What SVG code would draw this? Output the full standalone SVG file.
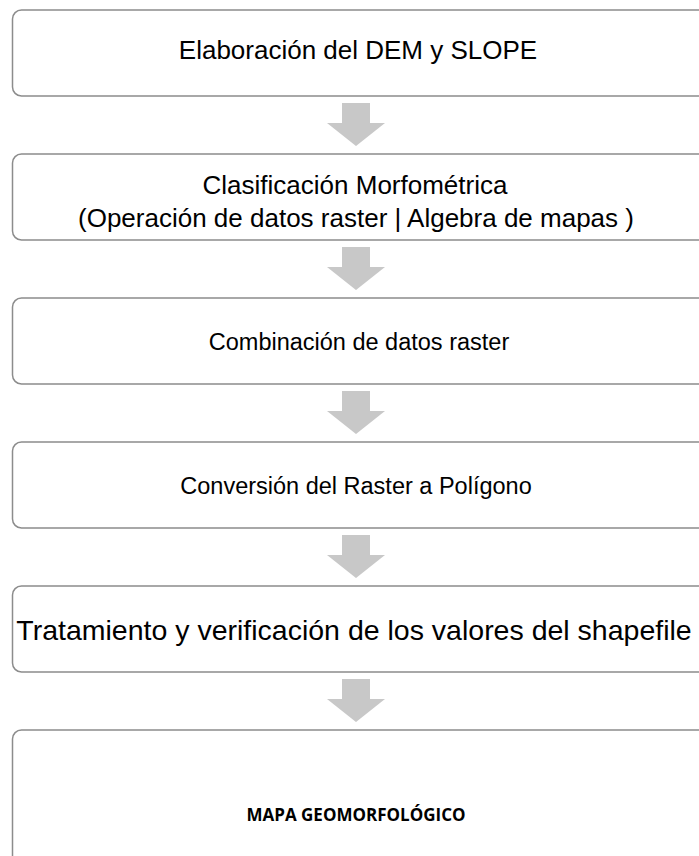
<svg xmlns="http://www.w3.org/2000/svg" width="699" height="856" viewBox="0 0 699 856">
<style>
.box{fill:#ffffff;stroke:#8c8c8c;stroke-width:1.5}
.t{font-family:"Liberation Sans",Arial,sans-serif;font-size:27px;fill:#000;text-anchor:middle}
.b{font-family:"Open Sans","Liberation Sans",sans-serif;font-size:17px;font-weight:700;fill:#000;text-anchor:middle}
.arr{fill:#c8c8c8}
</style>
<defs>
<path id="arrow" d="M-14,0 H14 V20 H29 L0,43 L-29,20 H-14 Z"/>
</defs>
<rect width="699" height="856" fill="#ffffff"/>
<g id="connectors">
<use href="#arrow" class="arr" x="356" y="103"/>
<use href="#arrow" class="arr" x="356" y="247"/>
<use href="#arrow" class="arr" x="356" y="391"/>
<use href="#arrow" class="arr" x="356" y="535"/>
<use href="#arrow" class="arr" x="356" y="679"/>
</g>
<g id="n1"><rect class="box" x="12.5" y="10" width="720" height="86" rx="9"/><text class="t" x="358" y="59" style="font-size:26px">Elaboración del DEM y SLOPE</text></g>
<g id="n2"><rect class="box" x="12.5" y="154" width="720" height="86" rx="9"/><text class="t" x="355" y="194" style="font-size:26px">Clasificación Morfométrica</text><text class="t" x="356" y="227" style="font-size:26px">(Operación de datos raster | Algebra de mapas )</text></g>
<g id="n3"><rect class="box" x="12.5" y="298" width="720" height="86" rx="9"/><text class="t" x="359" y="350" style="font-size:23.5px">Combinación de datos raster</text></g>
<g id="n4"><rect class="box" x="12.5" y="442" width="720" height="86" rx="9"/><text class="t" x="356" y="494" style="font-size:23.5px">Conversión del Raster a Polígono</text></g>
<g id="n5"><rect class="box" x="12.5" y="586" width="720" height="86" rx="9"/><text class="t" x="354" y="640" style="font-size:28.5px">Tratamiento y verificación de los valores del shapefile</text></g>
<g id="n6"><rect class="box" x="12.5" y="730" width="720" height="160" rx="9"/><text class="b" x="356" y="821">MAPA GEOMORFOLÓGICO</text></g>
</svg>
